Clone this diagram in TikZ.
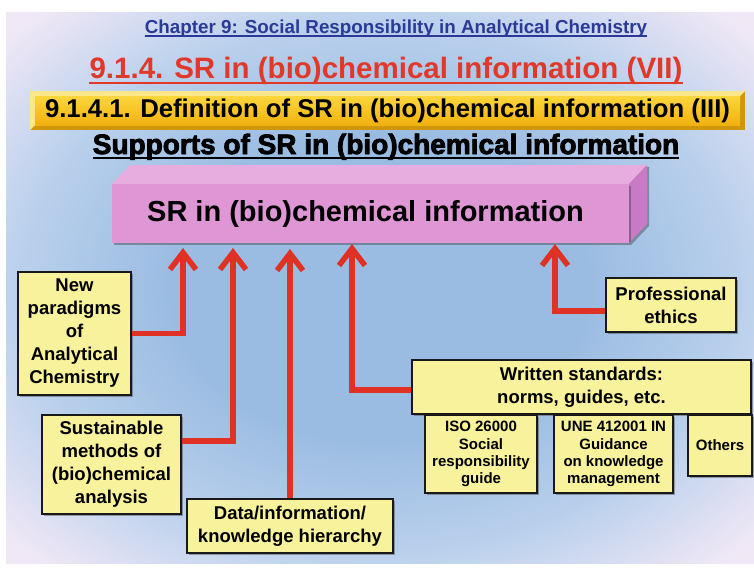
\documentclass[tikz,border=0pt]{standalone}
\usepackage{fontspec}
\setmainfont{Liberation Sans}
\newfontfamily\heavyfont[FakeBold=3]{Liberation Sans Bold}
\usetikzlibrary{arrows.meta, shadows}

\definecolor{chapblue}{HTML}{2B3A97}
\definecolor{titlered}{HTML}{E2382A}
\definecolor{arrowred}{HTML}{E03224}
\definecolor{boxyellow}{HTML}{F7F29B}
\definecolor{pinkfront}{HTML}{DE96D4}
\definecolor{pinktop}{HTML}{E8ADDF}
\definecolor{pinkside}{HTML}{C97AC6}
\definecolor{goldtop}{HTML}{FBD63C}
\definecolor{goldbot}{HTML}{F2B20F}
\definecolor{bgblue}{HTML}{9BBCE2}
\definecolor{bgmid}{HTML}{B9D0EC}
\definecolor{bgpale}{HTML}{F1E8F6}

\pgfdeclareradialshading{slidebg}{\pgfpoint{0bp}{0bp}}{color(0bp)=(bgblue); color(14bp)=(bgblue); color(24bp)=(bgmid); color(34bp)=(bgpale); color(72bp)=(bgpale)}

\begin{document}
\begin{tikzpicture}[x=1pt, y=-1pt,
  txt/.style={font=\fontsize{18.5}{23}\selectfont\bfseries, text=black, align=center},
  softshadow/.style={drop shadow={shadow xshift=2pt, shadow yshift=-2pt, opacity=0.4, fill=black!80}},
  infobox/.style={txt, draw=black!90, line width=1.8pt, fill=boxyellow, inner sep=0pt, softshadow},
  smallbox/.style={infobox, font=\fontsize{15}{17.3}\selectfont\bfseries},
  srarrow/.style={arrowred, line width=5.5pt, -{Straight Barb[length=17pt, width=26pt]}},
  uline/.style={line width=1.3pt}]
  \useasboundingbox (0,0) rectangle (754,573);

  % slide background
  \fill[white] (0,0) rectangle (754,573);
  \shade[shading=slidebg] (6,12) rectangle (754,563);

  % headings
  \node[font=\fontsize{18.8}{22}\selectfont\bfseries, text=chapblue, inner sep=0pt, anchor=base] (chapter) at (396,33) {Chapter 9: Social Responsibility in Analytical Chemistry};
  \draw[uline, chapblue] ([yshift=-3pt]chapter.base west) -- ([yshift=-3pt]chapter.base east);
  \node[font=\fontsize{29.5}{33}\selectfont\bfseries, text=titlered, inner sep=0pt, anchor=base] (title) at (386,78) {9.1.4. SR in (bio)chemical information (VII)};
  \draw[uline, titlered, line width=2pt] ([yshift=-5pt]title.base west) -- ([yshift=-5pt]title.base east);

  % golden banner with bevel
  \fill[goldbot!85!black] (30,91) rectangle (745,130);
  \fill[goldtop!60!white] (30,91) -- (745,91) -- (740,96) -- (35,96) -- (35,125) -- (30,130) -- cycle;
  \node[minimum width=705pt, minimum height=29pt, inner sep=0pt, top color=goldtop, bottom color=goldbot,
        font=\fontsize{25.7}{29}\selectfont\bfseries, text=black] (banner) at (387.5,110.5)
        {9.1.4.1. Definition of SR in (bio)chemical information (III)};

  \node[font=\fontsize{28}{32}\selectfont\heavyfont, text=black, inner sep=0pt, anchor=base] (supports) at (386,154) {Supports of SR in (bio)chemical information};
  \draw[uline, line width=1.8pt] ([yshift=-4pt]supports.base west) -- ([yshift=-4pt]supports.base east);

  % pink prism
  \coordinate (front nw) at (112,184);
  \coordinate (front ne) at (629,184);
  \coordinate (front se) at (629,243);
  \coordinate (back nw) at (130,165);
  \coordinate (back ne) at (647,165);
  \coordinate (back se) at (647,224);
  \fill[pinktop, softshadow] (front nw) -- (back nw) -- (back ne) -- (front ne) -- cycle;
  \fill[pinkside, softshadow] (front ne) -- (back ne) -- (back se) -- (front se) -- cycle;
  \node[minimum width=517pt, minimum height=59pt, inner sep=0pt, fill=pinkfront, softshadow,
        font=\fontsize{29}{32}\selectfont\bfseries, text=black] (sr) at (370.5,213.5) {SR in (bio)chemical information\hspace*{10pt}};

  % supporting boxes
  \node[infobox, minimum width=113pt, minimum height=123pt] (paradigms) at (74.5,333.5) {New\\paradigms\\of\\Analytical\\Chemistry};
  \node[infobox, minimum width=139pt, minimum height=99pt] (sustain) at (111.5,464.5) {Sustainable\\methods of\\(bio)chemical\\analysis};
  \node[infobox, minimum width=206pt, minimum height=54pt] (hierarchy) at (290,526) {Data/information/\\knowledge hierarchy};
  \node[infobox, minimum width=339pt, minimum height=54pt] (standards) at (581.5,387) {Written standards:\\norms, guides, etc.};
  \node[infobox, minimum width=130pt, minimum height=54pt] (ethics) at (671,305) {Professional\\ethics};
  \node[smallbox, minimum width=112pt, minimum height=78pt] (iso) at (481,454) {ISO 26000\\Social\\responsibility\\guide};
  \node[smallbox, minimum width=119pt, minimum height=78pt] (une) at (613.5,454) {UNE 412001 IN\\Guidance\\on knowledge\\management};
  \node[smallbox, minimum width=64pt, minimum height=61pt] (others) at (720,445.5) {Others};

  % arrows up to the prism
  \coordinate (tip1) at (183,248);
  \coordinate (tip2) at (233,248);
  \coordinate (tip3) at (290,249);
  \coordinate (tip4) at (352,244);
  \coordinate (tip5) at (555,244);
  \draw[srarrow] (paradigms.east) -| (tip1);
  \draw[srarrow] ([yshift=23.5pt]sustain.east) -| (tip2);
  \draw[srarrow] (hierarchy.north) -- (tip3);
  \draw[srarrow] ([yshift=-3pt]standards.west) -| (tip4);
  \draw[srarrow] ([yshift=-6pt]ethics.west) -| (tip5);
\end{tikzpicture}
\end{document}
